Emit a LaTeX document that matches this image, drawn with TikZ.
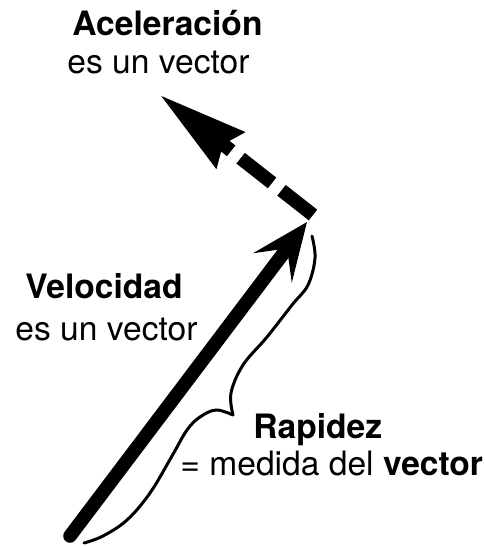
\documentclass[tikz,border=0pt]{standalone}
\usepackage{fontspec}
\setmainfont{TeX Gyre Heros}
\usetikzlibrary{arrows.meta}
\begin{document}
\begin{tikzpicture}[x=0.5pt,y=-0.5pt,
  lbl/.style={anchor=base west,inner sep=0pt,font=\fontsize{16.8}{20}\selectfont},
  vecline/.style={line width=6.8pt},
  brace/.style={line width=1.5pt,line cap=round}]
 \useasboundingbox (0,0) rectangle (484,546);
 \coordinate (vtail) at (70,536);
 \coordinate (vtip) at (307,222);
 \coordinate (atail) at (313,215);
 \coordinate (atip) at (160,95);
 \coordinate (cusp) at (233,415);
 % velocidad
 \draw[vecline,line cap=round,-{Stealth[length=28.5pt,width=24pt,inset=12pt,line cap=butt]}](vtail)--(vtip);
 % aceleracion
 \draw[vecline,dash pattern=on 20pt off 6pt,-{Stealth[length=44pt,width=22pt,inset=4pt]}](atail)--(atip);
 % llave de la rapidez
 \draw[brace] plot[smooth,tension=0.6] coordinates
   {(312,236) (315,258) (308,285) (292,305) (267,337) (243,365) (231,393) (cusp)};
 \draw[brace] plot[smooth,tension=0.6] coordinates
   {(cusp) (216,410) (200,417) (187,430) (172,456) (150,493) (127,520) (103,536) (84,543)};
 \node[lbl] (acc) at (72,35) {\bfseries Aceleración};
 \node[lbl] (accsub) at (67,73) {es un vector};
 \node[lbl] (vel) at (25,298) {\bfseries Velocidad};
 \node[lbl] (velsub) at (15,340) {es un vector};
 \node[lbl] (rap) at (253,438) {\bfseries Rapidez};
 \node[lbl] (rapsub) at (180,475) {= medida del \textbf{vector}};
\end{tikzpicture}
\end{document}
